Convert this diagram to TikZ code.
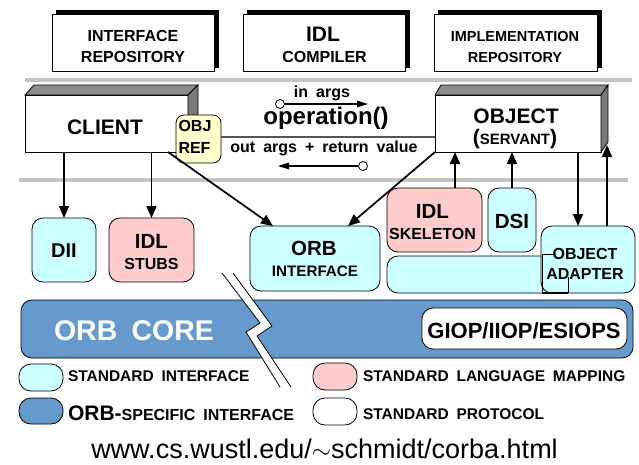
\documentclass[tikz,border=0pt]{standalone}
\usepackage{fontspec}
\setmainfont{Liberation Sans}
\newfontfamily\bsf{Liberation Sans}[WordSpace=1.8]
\usetikzlibrary{arrows.meta,calc}
\definecolor{cyanc}{HTML}{CCFFFF}
\definecolor{pinkc}{HTML}{FFCCCC}
\definecolor{yelc}{HTML}{FFFFCC}
\definecolor{bluec}{HTML}{6699CC}
\definecolor{sepc}{HTML}{C4C4C4}
\definecolor{topg}{HTML}{8C8C8C}
\definecolor{sideg}{HTML}{7A7A7A}
\definecolor{opg}{HTML}{555555}
\newcommand\fsz[1]{\fontsize{#1}{#1}\selectfont}
\begin{document}
\begin{tikzpicture}[x=1pt,y=-1pt,
  box/.style={draw=black, line width=0.8pt, inner sep=0pt, outer sep=0pt},
  rbox/.style={box, rounded corners=11pt},
  lbl/.style={inner sep=0pt, outer sep=0pt, font=\bsf\bfseries},
  arr/.style={line width=1.7pt, -{Triangle[length=12pt,width=10pt]}},
  sarr/.style={line width=1.1pt, -{Triangle[length=11pt,width=6.5pt]}},
  sepline/.style={line width=4pt, sepc},
]
\useasboundingbox (0,0) rectangle (639,464);

% top boxes with shadows
\node[box, fill=black, minimum width=162, minimum height=57] (irs) at (137,38.5) {};
\node[box, fill=white, minimum width=162, minimum height=57] (ir) at (133,42.5) {};
\node[box, fill=black, minimum width=162, minimum height=57] (ics) at (328,38.5) {};
\node[box, fill=white, minimum width=162, minimum height=57] (ic) at (324,42.5) {};
\node[box, fill=black, minimum width=163, minimum height=57] (ims) at (519.5,38.5) {};
\node[box, fill=white, minimum width=163, minimum height=57] (im) at (515.5,42.5) {};
\node[lbl] (irt1) at (133,36) {\fsz{16}INTERFACE};
\node[lbl] (irt2) at (133,57) {\fsz{16}REPOSITORY};
\node[lbl] (ict1) at (323,34) {\fsz{21}IDL};
\node[lbl] (ict2) at (324.5,57) {\fsz{16}COMPILER};
\node[lbl] (imt1) at (515,36.5) {\fsz{14.5}IMPLEMENTATION};
\node[lbl] (imt2) at (515,57.5) {\fsz{14.5}REPOSITORY};

% separators
\draw[sepline] (25,80) -- (632,80);
\draw[sepline] (19,180) -- (628,180);

% client 3D box
\node[box, fill=white, minimum width=163, minimum height=57] (client) at (106.5,123.5) {};
\draw[line width=0.8pt, fill=topg] (client.north west) -- ++(9,-10) -- ($(client.north east)+(10,-10)$) -- (client.north east) -- cycle;
\draw[line width=0.8pt, fill=sideg] (client.north east) -- ++(10,-10) -- ($(client.south east)+(10,-10)$) -- (client.south east) -- cycle;
\node[lbl] (clientt) at (105,127.5) {\fsz{21}CLIENT};

% object 3D box
\node[box, fill=white, minimum width=166, minimum height=57] (object) at (518,123.5) {};
\draw[line width=0.8pt, fill=topg] (object.north west) -- ++(6,-10) -- ($(object.north east)+(7,-10)$) -- (object.north east) -- cycle;
\draw[line width=0.8pt, fill=sideg] (object.north east) -- ++(7,-10) -- ($(object.south east)+(7,-10)$) -- (object.south east) -- cycle;
\node[lbl] (objectt1) at (516,116.5) {\fsz{21}OBJECT};
\node[lbl, anchor=base] (objectt2) at (515,144.5) {{\fsz{21}(}{\fsz{15}SERVANT}{\fsz{21})}};

% OBJ REF
\node[box, rounded corners=8pt, fill=yelc, minimum width=45, minimum height=48] (objref) at (198.5,139) {};
\node[lbl, anchor=west] (objreft1) at (178.5,126) {\fsz{16}OBJ};
\node[lbl, anchor=west] (objreft2) at (178.5,147.5) {\fsz{16}REF};

% operation line
\coordinate (opl) at ($(objref.east)+(0,-2)$);
\draw[line width=1.2pt, opg] (opl) -- (opl -| object.west);
\node[lbl] (opt) at (326,118) {\fsz{24}operation()};
\node[lbl] (inargs) at (322,93) {\fsz{16}in args};
\node[lbl] (outargs) at (324,148) {\fsz{16}out args + return value};
\node[draw, circle, fill=white, line width=0.8pt, minimum size=9pt, inner sep=0pt] (inc) at (280,104) {};
\coordinate (inb) at (368,104);
\draw[sarr] (inc.east) -- (inb);
\node[draw, circle, fill=white, line width=0.8pt, minimum size=9pt, inner sep=0pt] (outc) at (363,166) {};
\coordinate (outb) at (278,166);
\draw[sarr] (outc.west) -- (outb);

% ORB core
\node[rbox, fill=bluec, minimum width=612, minimum height=58] (core) at (327,329) {};
\node[lbl, text=white] (coret) at (134,331) {\fsz{28.5}ORB CORE};
\node[rbox, fill=white, minimum width=205, minimum height=41] (giop) at (524.5,328.5) {};
\node[lbl] (giopt) at (524,331) {\fsz{22}GIOP/IIOP/ESIOPS};

% crack
\fill[white] (222,273) -- (260,323) -- (246,332) -- (280,387) -- (291,387) -- (257,336) -- (272,326) -- (233,273) -- cycle;
\draw[line width=0.8pt] (222,273) -- (260,323) -- (246,332) -- (280,387);
\draw[line width=0.8pt] (233,273) -- (272,326) -- (257,336) -- (291,387);

% lower boxes
\node[rbox, fill=cyanc, minimum width=64, minimum height=64] (dii) at (64,250) {};
\node[lbl] (diit) at (64,251) {\fsz{20}DII};
\node[rbox, fill=pinkc, minimum width=85, minimum height=64] (stubs) at (151.5,250) {};
\node[lbl] (stubst1) at (151.5,241) {\fsz{20.5}IDL};
\node[lbl] (stubst2) at (151.5,264) {\fsz{16}STUBS};
\node[rbox, fill=cyanc, minimum width=130, minimum height=65] (orbif) at (315,258.5) {};
\node[lbl] (orbift1) at (314,248) {\fsz{20.5}ORB};
\node[lbl] (orbift2) at (315,271) {\fsz{15.2}INTERFACE};
\node[rbox, fill=pinkc, minimum width=95, minimum height=64] (skel) at (434.5,220) {};
\node[lbl] (skelt1) at (432.5,211) {\fsz{20.5}IDL};
\node[lbl] (skelt2) at (432.5,234) {\fsz{16}SKELETON};
\node[rbox, fill=cyanc, minimum width=48, minimum height=64] (dsi) at (512,220) {};
\node[lbl] (dsit) at (512,221) {\fsz{20.5}DSI};
\node[rbox, fill=cyanc, minimum width=173, minimum height=37] (bar) at (473.5,274.5) {};
\node[rbox, fill=cyanc, minimum width=94, minimum height=67] (oa) at (588,259.5) {};
\draw[line width=0.8pt] (542,254) -- (553,254);
\draw[line width=0.8pt] (542,254) -- (542,293);
\draw[line width=0.8pt] (568,277) -- (568,293);
\draw[line width=1.2pt] (542,293) -- (568,293);
\node[lbl, fill=cyanc] (oat1) at (585,254) {\fsz{16}OBJECT};
\node[lbl] (oat2) at (585,274) {\fsz{16}ADAPTER};

% arrows
\draw[arr] (client.south -| dii.north) -- (dii.north);
\draw[arr] (client.south -| stubs.north) -- (stubs.north);
\draw[arr] ($(client.south east)+(-20,0)$) -- ($(orbif.north west)+(23,0)$);
\draw[arr] (object.south west) -- ($(orbif.north east)+(-32,0)$);
\coordinate (skt) at ($(skel.north west)+(68,0)$);
\draw[arr] (skt) -- (skt |- object.south);
\draw[arr] (dsi.north) -- (dsi.north |- object.south);
\coordinate (oatop) at ($(oa.north west)+(37,0)$);
\draw[arr] (oatop |- object.south) -- (oatop);
\coordinate (objside) at ($(object.south east)+(6,-7)$);
\draw[arr] (objside |- oa.north) -- (objside);

% legend
\node[rbox, rounded corners=12pt, fill=cyanc, minimum width=44, minimum height=27] (lg1) at (41,377.5) {};
\node[lbl, anchor=base west] (lg1t) at (68,381.7) {\fsz{15.5}STANDARD INTERFACE};
\node[rbox, rounded corners=12pt, fill=pinkc, minimum width=44, minimum height=27] (lg2) at (335,376.5) {};
\node[lbl, anchor=base west] (lg2t) at (363,381.7) {\fsz{15.5}STANDARD LANGUAGE MAPPING};
\node[rbox, rounded corners=12pt, fill=bluec, minimum width=44, minimum height=26] (lg3) at (41,411) {};
\node[lbl, anchor=base west] (lg3t) at (68,420) {{\fsz{21}ORB-}{\fsz{16}SPECIFIC INTERFACE}};
\node[rbox, rounded corners=12pt, fill=white, minimum width=44, minimum height=27] (lg4) at (335,411.5) {};
\node[lbl, anchor=base west] (lg4t) at (363,419) {\fsz{15.5}STANDARD PROTOCOL};

% url
\node[inner sep=0pt, anchor=base] (url) at (324.5,458) {\fsz{27}www.cs.wustl.edu/$\sim$schmidt/corba.html};
\end{tikzpicture}
\end{document}
